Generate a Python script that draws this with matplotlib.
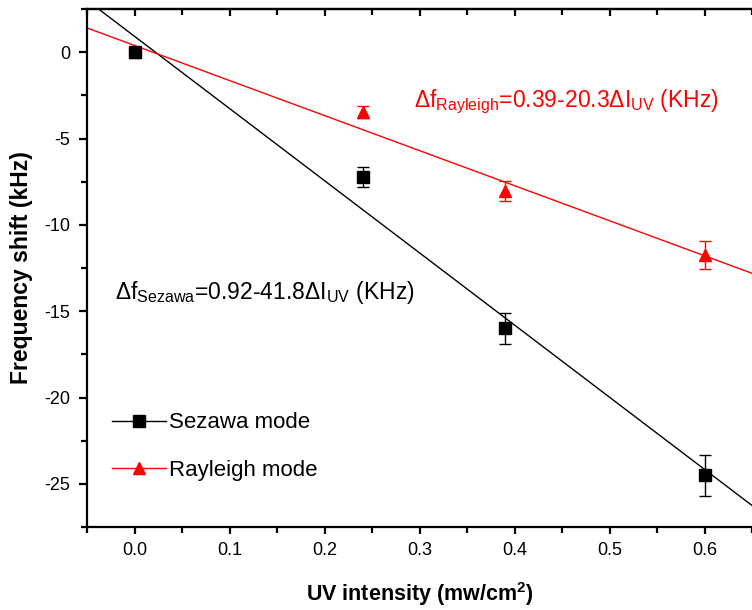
import matplotlib.pyplot as plt
import numpy as np
from matplotlib.lines import Line2D
from matplotlib.ticker import MultipleLocator

plt.rcParams['font.family'] = ['Liberation Sans', 'DejaVu Sans']
plt.rcParams['mathtext.fontset'] = 'custom'
plt.rcParams['mathtext.rm'] = 'Liberation Sans'
plt.rcParams['mathtext.it'] = 'Liberation Sans:italic'
plt.rcParams['mathtext.bf'] = 'Liberation Sans:bold'

# UV intensity (mw/cm^2)
uv = [0.0, 0.24, 0.39, 0.6]

# frequency shift (kHz) and error bars
sezawa = [0.0, -7.2, -16.0, -24.5]
sezawa_err = [0.0, 0.58, 0.88, 1.2]
rayleigh = [0.0, -3.45, -8.05, -11.75]
rayleigh_err = [0.0, 0.35, 0.58, 0.8]

# linear fits: shift = a + b * I
sez_fit = (0.92, -41.8)
ray_fit = (0.39, -20.3)

fig = plt.figure(figsize=(7.52, 6.1), dpi=100)
ax = fig.add_axes([0.1157, 0.136, 0.8843, 0.8492])

x_fit = np.linspace(-0.05, 0.65, 200)
ax.plot(x_fit, sez_fit[0] + sez_fit[1] * x_fit, color='black', lw=1)
ax.plot(x_fit, ray_fit[0] + ray_fit[1] * x_fit, color='red', lw=1)

# rayleigh first so the square sits on top at the origin
ax.errorbar(uv, rayleigh, yerr=rayleigh_err, fmt='^', color='red', ms=9,
            ecolor='red', elinewidth=1, capsize=4, capthick=1, zorder=3)
ax.errorbar(uv, sezawa, yerr=sezawa_err, fmt='s', color='black', ms=8,
            ecolor='black', elinewidth=1, capsize=4, capthick=1, zorder=4)

ax.set_xlim(-0.05, 0.65)
ax.set_ylim(-27.5, 2.5)
ax.xaxis.set_minor_locator(MultipleLocator(0.05))
ax.yaxis.set_minor_locator(MultipleLocator(2.5))
ax.set_xticks(np.arange(0, 0.61, 0.1))
ax.set_xticklabels(['0.0', '0.1', '0.2', '0.3', '0.4', '0.5', '0.6'])
ax.set_yticks([0, -5, -10, -15, -20, -25])
ax.set_yticklabels(['0', '-5', '-10', '-15', '-20', '-25'])

for s in ['left', 'bottom', 'top']:
    ax.spines[s].set_linewidth(1.6)
ax.spines['right'].set_visible(False)
ax.tick_params(which='both', direction='out', width=1.6, labelsize=13)
ax.tick_params(axis='x', which='major', length=5, pad=6)
ax.tick_params(axis='x', which='minor', length=4)
ax.tick_params(axis='y', which='major', length=6, pad=6)
ax.tick_params(axis='y', which='minor', length=4.5)

# inward ticks along the top edge
top = ax.secondary_xaxis('top')
top.set_xticks(np.arange(0, 0.61, 0.1))
top.xaxis.set_minor_locator(MultipleLocator(0.05))
top.tick_params(which='both', direction='in', width=1.6, labeltop=False)
top.tick_params(which='major', length=5)
top.tick_params(which='minor', length=4)
top.spines['top'].set_linewidth(1.6)

ax.set_xlabel('UV intensity (mw/cm$^\\mathbf{2}$)', fontsize=15.5,
              fontweight='bold', labelpad=15)
ax.set_ylabel('Frequency shift (kHz)', fontsize=16.5, fontweight='bold',
              labelpad=8)

ax.text(0.294, -2.85, r'$\Delta$f$_{\mathrm{Rayleigh}}$=0.39-20.3$\Delta$I$_{\mathrm{UV}}$ (KHz)',
        color='red', fontsize=16.5, va='center')
ax.text(-0.021, -13.9, r'$\Delta$f$_{\mathrm{Sezawa}}$=0.92-41.8$\Delta$I$_{\mathrm{UV}}$ (KHz)',
        color='black', fontsize=16.5, va='center')

handles = [
    Line2D([], [], color='black', lw=1, marker='s', ms=8),
    Line2D([], [], color='red', lw=1, marker='^', ms=9),
]
ax.legend(handles, ['Sezawa mode', 'Rayleigh mode'], loc='upper left',
          bbox_to_anchor=(0.008, 0.26), frameon=False, fontsize=16,
          handlelength=2.4, handletextpad=0.15, labelspacing=1.2)

fig.savefig('out.png', dpi=100)
